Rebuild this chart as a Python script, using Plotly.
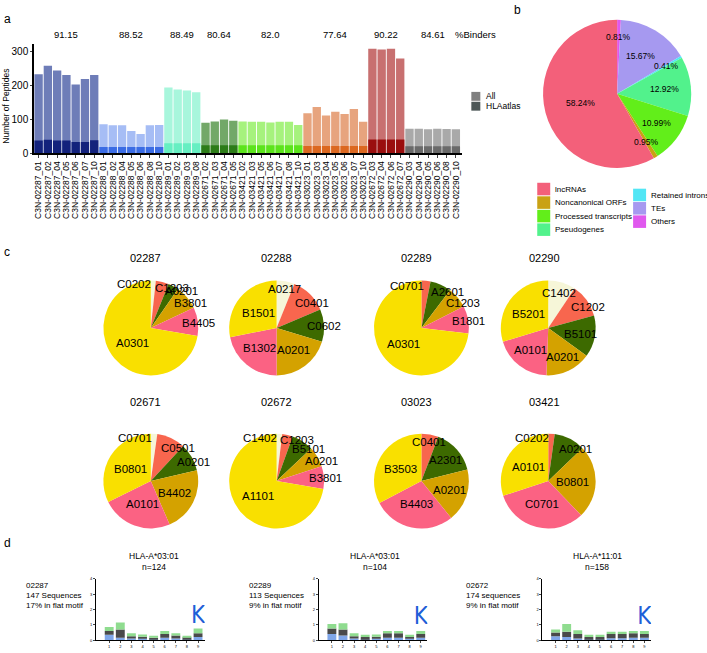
import math
import plotly.graph_objects as go

W, H = 707, 653
FONT = "Liberation Sans, Arial, sans-serif"

# ---------------- Panel a data ----------------
group_ids = ["02287", "02288", "02289", "02671", "03421", "03023", "02672", "02290"]
sample_suffixes = [
    ["01", "02", "04", "05", "06", "07", "10"],
    ["01", "02", "04", "05", "06", "08", "10"],
    ["01", "02", "03", "08"],
    ["02", "03", "04", "05"],
    ["02", "03", "05", "06", "07", "08", "10"],
    ["01", "03", "04", "05", "06", "07", "10"],
    ["03", "04", "06", "07"],
    ["03", "04", "05", "06", "08", "10"],
]
peptides_all = [
    [232, 257, 243, 230, 202, 218, 230],
    [85, 82, 82, 65, 56, 82, 83],
    [193, 187, 184, 179],
    [89, 93, 99, 95],
    [93, 92, 92, 90, 92, 92, 83],
    [117, 136, 111, 122, 115, 130, 92],
    [307, 305, 307, 278],
    [72, 72, 70, 72, 71, 70],
]
peptides_hlaatlas = [
    [37, 39, 37, 37, 33, 33, 38],
    [18, 18, 18, 18, 18, 18, 18],
    [29, 29, 29, 29],
    [23, 23, 23, 23],
    [23, 23, 23, 23, 23, 23, 23],
    [21, 21, 21, 21, 21, 21, 21],
    [40, 40, 40, 40],
    [20, 20, 20, 20, 20, 20],
]
binders_pct = ["91.15", "88.52", "88.49", "80.64", "82.0", "77.64", "90.22", "84.61"]
y_ticks_a = [0, 100, 200, 300]

# ---------------- Panel b data ----------------
b_categories = ["lncRNAs", "Noncanonical ORFs", "Processed transcripts", "Pseudogenes",
                "Retained introns", "TEs", "Others"]
b_percent = [58.24, 0.95, 10.99, 12.92, 0.41, 15.67, 0.81]

# ---------------- Panel c data ----------------
c_samples = ["02287", "02288", "02289", "02290", "02671", "02672", "03023", "03421"]
c_alleles = [
    ["C0202", "C1203", "A0201", "B3801", "B4405", "A0301"],
    ["A0217", "C0401", "C0602", "A0201", "B1302", "B1501"],
    ["C0701", "A2601", "C1203", "B1801", "A0301"],
    ["C1402", "C1202", "B5101", "A0201", "A0101", "B5201"],
    ["C0701", "C0501", "A0201", "B4402", "A0101", "B0801"],
    ["C1402", "C1203", "B5101", "A0201", "B3801", "A1101"],
    ["C0401", "A2301", "A0201", "B4403", "B3503"],
    ["C0202", "A0201", "B0801", "C0701", "A0101"],
]
c_shares = [
    [1.7, 4.4, 3.6, 8.3, 9.7, 72.3],
    [6.1, 12.5, 11.1, 20.3, 21.9, 28.1],
    [3.1, 7.2, 7.2, 9.4, 73.1],
    [9.4, 11.4, 14.2, 15.6, 19.7, 29.7],
    [2.2, 9.7, 9.4, 22.2, 24.2, 32.3],
    [1.9, 3.6, 7.5, 6.9, 7.8, 72.3],
    [5.8, 15.3, 18.1, 28.1, 32.7],
    [2.2, 10.6, 25.0, 32.2, 30.0],
]

# ---------------- Panel d data ----------------
logo_samples = ["02287", "02289", "02672"]
logo_alleles = ["HLA-A*03:01", "HLA-A*03:01", "HLA-A*11:01"]
logo_n = [124, 104, 158]
logo_seq_text = ["147 Sequences", "113 Sequences", "174 sequences"]
logo_flat_text = ["17% in flat motif", "9% in flat motif", "9% in flat motif"]
logo_positions = [1, 2, 3, 4, 5, 6, 7, 8, 9]
logo_blue = [
    [0.35, 0.15, 0.10, 0.10, 0.05, 0.15, 0.10, 0.08, 0.20],
    [0.40, 0.30, 0.10, 0.08, 0.10, 0.15, 0.15, 0.10, 0.15],
    [0.25, 0.20, 0.10, 0.08, 0.08, 0.12, 0.12, 0.15, 0.15],
]
logo_black = [
    [0.25, 0.55, 0.15, 0.12, 0.10, 0.25, 0.20, 0.10, 0.25],
    [0.35, 0.40, 0.15, 0.12, 0.12, 0.30, 0.30, 0.10, 0.25],
    [0.25, 0.35, 0.30, 0.12, 0.12, 0.28, 0.28, 0.30, 0.25],
]
logo_green = [
    [0.25, 0.45, 0.20, 0.15, 0.12, 0.20, 0.15, 0.10, 0.30],
    [0.30, 0.40, 0.20, 0.15, 0.15, 0.15, 0.15, 0.15, 0.20],
    [0.20, 0.50, 0.25, 0.15, 0.15, 0.15, 0.15, 0.15, 0.20],
]
logo_k_top = [2.2, 2.2, 2.2]

# ---------------- Styles ----------------
colors_all = ["#6e7db8", "#a6bdf5", "#a8f6dc", "#72a868", "#a6f27d", "#e7a47e", "#c87070", "#a9a9a9"]
colors_hla = ["#13227c", "#3b6ce4", "#66efc2", "#2c7c18", "#5ce41c", "#dc6820", "#9a0e0e", "#6a6a6a"]
b_colors = ["#f3607a", "#c9a214", "#62ee1a", "#52f28c", "#52e6f5", "#a699f0", "#e058ee"]
c_palette = ["#f6f6d8", "#f8664e", "#3d6a00", "#d4a200", "#fb6283", "#f9e000"]
logo_colors = ["#7fa6e8", "#4a4a4a", "#8fdc8f"]


def X(p):
    return p / W


def Y(p):
    return 1 - p / H


def ann(text, x, y, size, xanchor="center", yanchor="middle", color="black", angle=0):
    return dict(text=text, x=X(x), y=Y(y), xref="paper", yref="paper", showarrow=False,
                xanchor=xanchor, yanchor=yanchor, textangle=angle,
                font=dict(size=size, color=color, family=FONT))


fig = go.Figure()
annotations = []
shapes = []

# ---------------- Panel a ----------------
labels_a, vals_all, vals_hla, col_all, col_hla, group_centers = [], [], [], [], [], []
idx = 0
for g, gid in enumerate(group_ids):
    start = idx
    for k, suf in enumerate(sample_suffixes[g]):
        labels_a.append(f"C3N-{gid}_{suf}")
        vals_all.append(peptides_all[g][k])
        vals_hla.append(peptides_hlaatlas[g][k])
        col_all.append(colors_all[g])
        col_hla.append(colors_hla[g])
        idx += 1
    group_centers.append((start + idx - 1) / 2)
xs = list(range(len(labels_a)))

fig.add_trace(go.Bar(x=xs, y=vals_all, marker=dict(color=col_all, line=dict(width=0)),
                     xaxis="x", yaxis="y", showlegend=False, hoverinfo="skip"))
fig.add_trace(go.Bar(x=xs, y=vals_hla, marker=dict(color=col_hla, line=dict(width=0)),
                     xaxis="x", yaxis="y", showlegend=False, hoverinfo="skip"))

for g, c in enumerate(group_centers):
    annotations.append(dict(text=binders_pct[g], x=c, y=Y(32), xref="x", yref="paper",
                            xanchor="center", yanchor="middle", showarrow=False,
                            font=dict(size=9.5, family=FONT, color="black")))
annotations.append(ann("%Binders", 475, 32, 9.5))
annotations.append(ann("Number of Peptides", 5, 104, 8.5, angle=-90))

# legend a
leg_a = [("All", "#7f7f7f"), ("HLAatlas", "#4e5858")]
for i, (t, c) in enumerate(leg_a):
    y0 = 90 + i * 10
    shapes.append(dict(type="rect", xref="paper", yref="paper", x0=X(471), x1=X(480),
                       y0=Y(y0), y1=Y(y0 + 9), fillcolor=c, line=dict(width=0)))
    annotations.append(ann(t, 484, y0 + 4.5, 8.5, xanchor="left"))

# ---------------- Panel b ----------------
# drawn clockwise from 12 o'clock, so the list is walked in reverse order
bcx, bcy, bR = 617, 92, 75
b_vals_cw = b_percent[::-1]
b_labels_cw = b_categories[::-1]
b_colors_cw = b_colors[::-1]
fig.add_trace(go.Pie(values=b_vals_cw, labels=b_labels_cw, sort=False, direction="clockwise",
                     rotation=0, marker=dict(colors=b_colors_cw, line=dict(width=0)),
                     textinfo="none", showlegend=False, hoverinfo="skip",
                     domain=dict(x=[X(bcx - bR), X(bcx + bR)], y=[Y(bcy + bR), Y(bcy - bR)])))
tot = sum(b_vals_cw)
cum = 0
for v in b_vals_cw:
    mid = (cum + v / 2) / tot * 360
    cum += v
    f = v / tot
    r = (0.5 + 0.27 * (1 - min(f / 0.25, 1))) * bR
    ang = math.radians(mid)
    annotations.append(ann(f"{v:.2f}%", bcx + r * math.sin(ang), bcy - r * math.cos(ang), 8.5))

# legend b (two columns)
for i, (t, c) in enumerate(zip(b_categories, b_colors)):
    if i < 4:
        x0, y0 = 537, 182 + i * 13.7
    else:
        x0, y0 = 633, 188 + (i - 4) * 13.5
    shapes.append(dict(type="rect", xref="paper", yref="paper", x0=X(x0), x1=X(x0 + 13),
                       y0=Y(y0), y1=Y(y0 + 12.7), fillcolor=c, line=dict(width=0)))
    annotations.append(ann(t, x0 + 16, y0 + 6.5, 8, xanchor="left"))

# ---------------- Panel c ----------------
c_cx = [150, 276, 421, 548]
c_cy = [329, 484]
c_title_x = [145, 276, 416, 544]
c_title_y = [258, 404]
cR = 48
for p, name in enumerate(c_samples):
    row, col = divmod(p, 4)
    cx, cy = c_cx[col], c_cy[row]
    shares = c_shares[p]
    cols = c_palette[-len(shares):]
    fig.add_trace(go.Pie(values=shares, labels=c_alleles[p], sort=False, direction="clockwise",
                         rotation=0, marker=dict(colors=cols, line=dict(width=0)),
                         textinfo="none", showlegend=False, hoverinfo="skip",
                         domain=dict(x=[X(cx - cR), X(cx + cR)], y=[Y(cy + cR), Y(cy - cR)])))
    annotations.append(ann(name, c_title_x[col], c_title_y[row], 11))
    tot = sum(shares)
    cum = 0
    for j, (lab, v) in enumerate(zip(c_alleles[p], shares)):
        mid = (cum + v / 2) / tot * 360
        cum += v
        f = v / tot
        r = (0.5 + 0.45 * (1 - min(f / 0.25, 1))) * cR
        ang = math.radians(mid)
        lx, ly = cx + r * math.sin(ang), cy - r * math.cos(ang)
        if j == 0 and f < 0.05:
            annotations.append(ann(lab, lx, ly, 11.5, xanchor="right"))
        elif j > 0 and f < 0.13 and 5 <= mid <= 170:
            annotations.append(ann(lab, lx - 8, ly, 11.5, xanchor="left"))
        else:
            annotations.append(ann(lab, lx, ly, 11.5))

# ---------------- Panel d ----------------
logo_axis_x = [95, 318, 542]
logo_title_x = [153, 375, 597]
logo_text_x = [23, 246, 464]
logo_top, logo_bottom = 583, 645
logo_width = 109
for L in range(3):
    ax = L + 2
    xa, ya = f"x{ax}", f"y{ax}"
    base = [0.0] * 9
    for part, colr in zip([logo_blue[L], logo_black[L], logo_green[L]], logo_colors):
        fig.add_trace(go.Bar(x=logo_positions, y=part, base=list(base), width=0.8,
                             marker=dict(color=colr, line=dict(width=0)),
                             xaxis=xa, yaxis=ya, showlegend=False, hoverinfo="skip"))
        base = [b + h for b, h in zip(base, part)]
    k_bottom = base[-1]
    fig.add_trace(go.Scatter(x=[9], y=[(k_bottom + logo_k_top[L]) / 2 + 0.05], mode="text", text=["K"],
                             textfont=dict(size=24, color="#1e5fd8",
                                           family="Liberation Sans Narrow, DejaVu Sans Condensed, Liberation Sans"),
                             xaxis=xa, yaxis=ya, showlegend=False, hoverinfo="skip"))
    x0 = logo_axis_x[L]
    fig.update_layout(**{
        f"xaxis{ax}": dict(domain=[X(x0), X(x0 + logo_width)], anchor=ya, range=[-0.2, 9.6],
                          tickvals=logo_positions, tickfont=dict(size=4, family=FONT),
                          ticks="outside", ticklen=2, tickwidth=0.5, showline=True,
                          linecolor="black", linewidth=0.8, showgrid=False, zeroline=False),
        f"yaxis{ax}": dict(domain=[Y(logo_bottom), Y(logo_top)], anchor=xa, range=[0, 4],
                          tickvals=[0, 1, 2, 3, 4], tickfont=dict(size=4, family=FONT),
                          ticks="outside", ticklen=2, tickwidth=0.5, showline=True,
                          linecolor="black", linewidth=0.6, showgrid=False, zeroline=False),
    })
    annotations.append(ann(logo_alleles[L], logo_title_x[L], 560, 8.5))
    annotations.append(ann(f"n={logo_n[L]}", logo_title_x[L], 571, 8.5))
    annotations.append(ann(logo_samples[L], logo_text_x[L], 590, 8, xanchor="left"))
    annotations.append(ann(logo_seq_text[L], logo_text_x[L], 600, 8, xanchor="left"))
    annotations.append(ann(logo_flat_text[L], logo_text_x[L], 609.5, 8, xanchor="left"))

# panel letters
for t, x, y in [("a", 1, 16), ("b", 512, 7), ("c", 1, 252), ("d", 1, 547)]:
    annotations.append(ann(t, x, y, 12, xanchor="left"))

fig.update_layout(
    width=W, height=H, margin=dict(l=0, r=0, t=0, b=0),
    paper_bgcolor="white", plot_bgcolor="white",
    barmode="overlay", bargap=0.1, showlegend=False,
    font=dict(family=FONT, color="black"),
    xaxis=dict(domain=[X(33), X(462)], anchor="y", range=[-0.5, 45.7],
               tickvals=xs, ticktext=labels_a, tickangle=-90,
               tickfont=dict(size=8.5, family=FONT), ticks="outside", ticklen=3,
               showline=True, linecolor="black", linewidth=1.5, showgrid=False, zeroline=False),
    yaxis=dict(domain=[Y(152), Y(41.8)], anchor="x", range=[0, 320],
               tickvals=y_ticks_a, tickfont=dict(size=10, family=FONT), ticks="outside", ticklen=2,
               showline=True, linecolor="black", linewidth=1.5, showgrid=False, zeroline=False),
    annotations=annotations, shapes=shapes,
)

fig.write_html("out.html", config={"displayModeBar": False},
               post_script="document.body.style.margin='0px';")
